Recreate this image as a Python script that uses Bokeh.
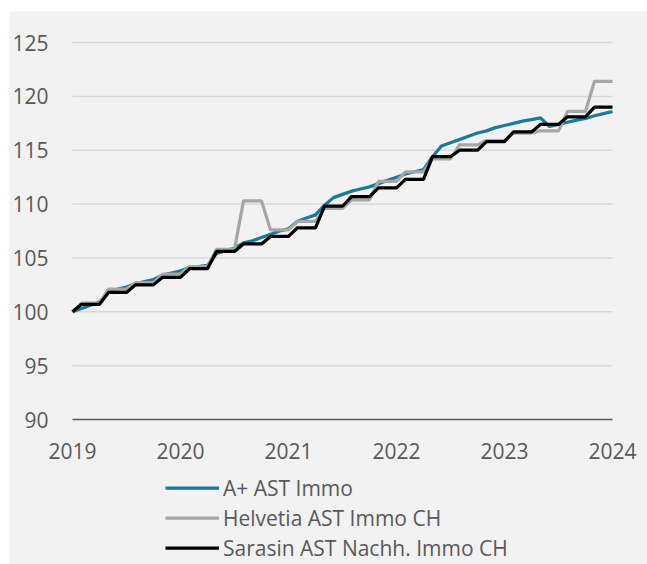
from bokeh.plotting import figure
from bokeh.models import Range1d, FixedTicker, Legend, LegendItem
from bokeh.embed import file_html
from bokeh.resources import INLINE

# Monthly index: 0 = Jan 2019 ... 60 = Jan 2024
months = list(range(61))

aplus = [100.0, 100.3, 100.6, 100.9, 101.8, 102.1, 102.3, 102.6, 102.8, 103.0,
         103.4, 103.6, 103.8, 104.1, 104.2, 104.3, 105.4, 105.7, 105.9, 106.4,
         106.6, 106.9, 107.2, 107.5, 107.7, 108.4, 108.7, 109.0, 109.9, 110.6,
         110.9, 111.2, 111.4, 111.6, 111.9, 112.2, 112.5, 112.8, 113.0, 113.2,
         114.4, 115.4, 115.7, 116.0, 116.3, 116.6, 116.8, 117.1, 117.3, 117.5,
         117.7, 117.85, 118.0, 117.2, 117.4, 117.6, 117.8, 117.95, 118.2, 118.4,
         118.6]

helvetia = [100.0, 100.8, 100.8, 100.8, 102.1, 102.1, 102.1, 102.7, 102.7, 102.7,
            103.5, 103.5, 103.5, 104.2, 104.2, 104.2, 105.8, 105.8, 105.8, 110.3,
            110.3, 110.3, 107.6, 107.6, 107.6, 108.4, 108.4, 108.4, 109.6, 109.6,
            109.6, 110.4, 110.4, 110.4, 112.1, 112.1, 112.1, 113.0, 113.0, 113.0,
            114.2, 114.2, 114.2, 115.5, 115.5, 115.5, 115.9, 115.9, 115.9, 116.6,
            116.6, 116.6, 116.8, 116.8, 116.8, 118.6, 118.6, 118.6, 121.4, 121.4,
            121.4]

sarasin = [100.0, 100.7, 100.7, 100.7, 101.8, 101.8, 101.8, 102.5, 102.5, 102.5,
           103.2, 103.2, 103.2, 104.0, 104.0, 104.0, 105.6, 105.6, 105.6, 106.3,
           106.3, 106.3, 107.0, 107.0, 107.0, 107.8, 107.8, 107.8, 109.8, 109.8,
           109.8, 110.7, 110.7, 110.7, 111.5, 111.5, 111.5, 112.3, 112.3, 112.3,
           114.4, 114.4, 114.4, 115.0, 115.0, 115.0, 115.8, 115.8, 115.8, 116.7,
           116.7, 116.7, 117.4, 117.4, 117.4, 118.1, 118.1, 118.1, 119.0, 119.0,
           119.0]

series_names = ["A+ AST Immo", "Helvetia AST Immo CH", "Sarasin AST Nachh. Immo CH"]
x_tick_pos = [0, 12, 24, 36, 48, 60]
x_tick_labels = ["2019", "2020", "2021", "2022", "2023", "2024"]
y_ticks = [90, 95, 100, 105, 110, 115, 120, 125]

BG = "#f2f2f2"
TXT = "#595959"
FONT = "Open Sans"

# Frame covers the whole grey area; plot area 0..60 months, 90..125 values
p = figure(width=647, height=564, output_backend="svg", toolbar_location=None,
           x_range=Range1d(-7.0, 63.89), y_range=Range1d(76.54, 127.88),
           min_border_left=9, min_border_right=0, min_border_top=11,
           min_border_bottom=0)
p.background_fill_color = BG
p.border_fill_color = "white"
p.outline_line_color = None
p.grid.visible = False

# horizontal gridlines over the plot area only
p.segment(x0=x_tick_pos[0], x1=x_tick_pos[-1], y0=y_ticks[1:], y1=y_ticks[1:],
          line_color="#d9d9d9", line_width=1.5)

xa = p.xaxis[0]
xa.fixed_location = y_ticks[0]
xa.bounds = (x_tick_pos[0], x_tick_pos[-1])
xa.ticker = FixedTicker(ticks=x_tick_pos)
xa.major_label_overrides = {t: l for t, l in zip(x_tick_pos, x_tick_labels)}
xa.axis_line_color = "#595959"
xa.axis_line_width = 1.5
xa.major_tick_line_color = None
xa.major_tick_out = 0
xa.major_tick_in = 0
xa.minor_tick_line_color = None
xa.major_label_standoff = 23
xa.major_label_text_font = FONT
xa.major_label_text_font_size = "21px"
xa.major_label_text_color = TXT

ya = p.yaxis[0]
ya.fixed_location = x_tick_pos[0]
ya.ticker = FixedTicker(ticks=y_ticks)
ya.axis_line_color = None
ya.major_tick_line_color = None
ya.major_tick_out = 0
ya.major_tick_in = 0
ya.minor_tick_line_color = None
ya.major_label_standoff = 24
ya.major_label_text_font = FONT
ya.major_label_text_font_size = "21px"
ya.major_label_text_color = TXT

r1 = p.line(months, aplus, line_color="#1a7a99", line_width=3.25)
r2 = p.line(months, helvetia, line_color="#a6a6a6", line_width=3.25)
r3 = p.line(months, sarasin, line_color="#000000", line_width=3.25)

legend = Legend(items=[LegendItem(label=series_names[0], renderers=[r1]),
                       LegendItem(label=series_names[1], renderers=[r2]),
                       LegendItem(label=series_names[2], renderers=[r3])],
                location=(156, 2), orientation="vertical")
legend.background_fill_alpha = 0
legend.border_line_color = None
legend.padding = 0
legend.margin = 0
legend.spacing = 1
legend.glyph_width = 54
legend.glyph_height = 29
legend.label_height = 29
legend.label_standoff = 4
legend.label_text_font = FONT
legend.label_text_font_size = "21px"
legend.label_text_color = TXT
p.add_layout(legend, "center")

open("out.html", "w").write(file_html(p, INLINE))
